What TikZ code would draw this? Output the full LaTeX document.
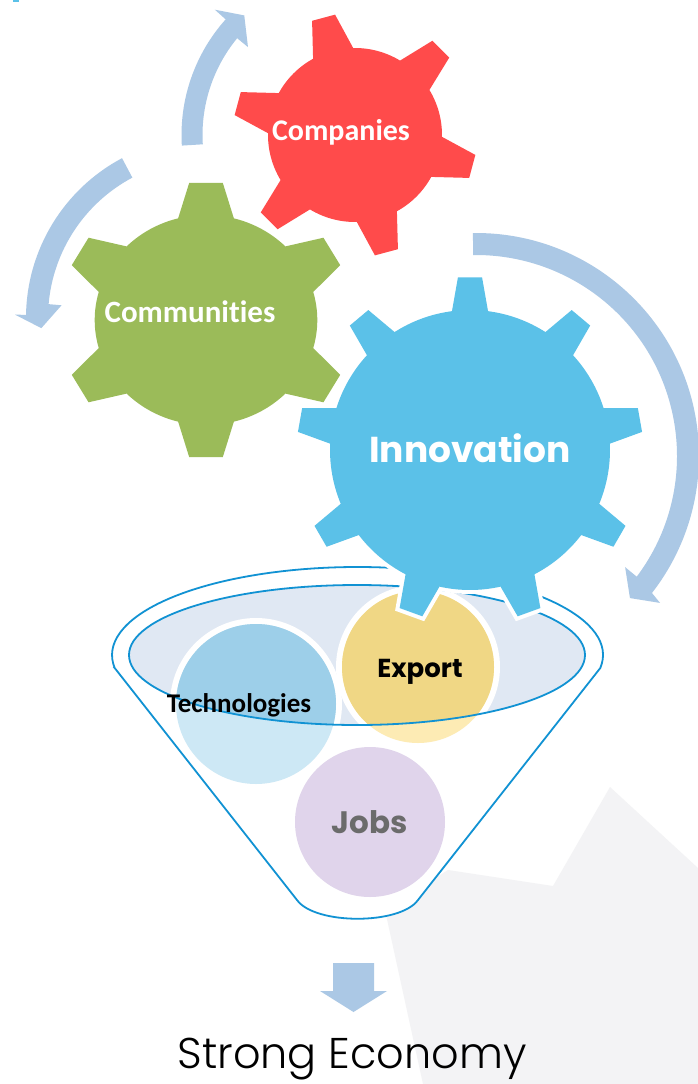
\documentclass[tikz,border=0pt]{standalone}
\usepackage{fontspec}
\newfontfamily\calfont{Carlito}[Ligatures=NoCommon]
\newfontfamily\popfont{Poppins}
\newfontfamily\poplight{Poppins Light}
\definecolor{gred}{HTML}{FF4B4B}
\definecolor{ggreen}{HTML}{9BBB59}
\definecolor{gblue}{HTML}{5BC1E8}
\definecolor{arr}{HTML}{ABC8E5}
\definecolor{fline}{HTML}{1192D3}
\definecolor{efill}{HTML}{E0E8F3}
\definecolor{techlt}{HTML}{CDE8F5}
\definecolor{techdk}{HTML}{9DCFE9}
\definecolor{explt}{HTML}{FDEBB4}
\definecolor{expdk}{HTML}{F0D785}
\definecolor{jobsc}{HTML}{E0D4EB}
\definecolor{bggrey}{HTML}{F3F3F5}
\definecolor{jobstxt}{HTML}{6B6B6B}
% #1 scope options (shift etc.), #2 teeth, #3 first tooth angle, #4 body radius, #5 tip radius,
% #6 half angle at base, #7 half angle at tip, #8 path options
\newcommand\mygear[8]{%
  \begin{scope}[#1]
  \path[#8] ({#3-#6}:#4)
    \foreach \k in {1,...,#2}{
      -- ({#3+(\k-1)*360/#2-#7}:#5) -- ({#3+(\k-1)*360/#2+#7}:#5)
      -- ({#3+(\k-1)*360/#2+#6}:#4)
      arc[start angle={#3+(\k-1)*360/#2+#6}, end angle={#3+\k*360/#2-#6}, radius=#4]
    } -- cycle;
  \end{scope}}
\begin{document}
\begin{tikzpicture}[x=1pt,y=-1pt,
  arrowshape/.style={fill=arr},
  funnelline/.style={draw=fline,line width=1.8},
  geartext/.style={anchor=base,text=white,font=\calfont\bfseries\fontsize{30}{30}\selectfont},
  circtext/.style={anchor=base,text=black}]
\useasboundingbox (0,0) rectangle (698,1084);
\fill[white] (0,0) rectangle (698,1084);
% background sheet
\fill[bggrey] (423,1084) -- (385,910) -- (448,870) -- (553,886) -- (610,787) -- (698,868) -- (698,1084) -- cycle;
\fill[gblue] (13,0) rectangle (19,1.5);
% funnel body
\path[fill=white] (114.7,668) -- (297,900) .. controls (315,925) and (400,925) .. (418,900) -- (600.3,668)
  arc[start angle=8.5, end angle=-188.5, x radius=245.5, y radius=88] -- cycle;
\fill[efill] (357,655) ellipse [x radius=228, y radius=70];
% circles
\fill[white] (256,704) circle[radius=86];
\fill[white] (418,667) circle[radius=82];
\fill[techlt] (256,704) circle[radius=80];
\fill[explt] (418,667) circle[radius=76];
\fill[jobsc] (370,822) circle[radius=75];
\begin{scope}
  \clip (357,655) ellipse [x radius=228, y radius=70];
  \fill[techdk] (256,704) circle[radius=80];
  \fill[expdk] (418,667) circle[radius=76];
\end{scope}
\draw[funnelline] (114.7,668) -- (297,900) .. controls (315,925) and (400,925) .. (418,900) -- (600.3,668)
  arc[start angle=8.5, end angle=-188.5, x radius=245.5, y radius=88] -- cycle;
\draw[funnelline] (357,655) ellipse [x radius=228, y radius=70];
% curved arrows
\begin{scope}[shift={(355,135)}]
\fill[arrowshape] (176.5:173.5) arc[start angle=176.5, end angle=221.8, radius=173.5]
  -- (221.8:188) -- (227.2:163) -- (219.4:138.5) -- (219.4:152.5)
  arc[start angle=219.4, end angle=176.5, radius=152.5] -- cycle;
\end{scope}
\begin{scope}[shift={(207,318)}]
\fill[arrowshape] (242:181) arc[start angle=242, end angle=181, radius=181]
  -- (181:192) -- (176.5:166) -- (185:146) -- (185:159)
  arc[start angle=185, end angle=242, radius=159] -- cycle;
\end{scope}
\begin{scope}[shift={(476,456)}]
\fill[arrowshape] (-90.8:223) arc[start angle=-90.8, end angle=37.9, radius=223]
  -- (38.6:235.5) -- (42.7:209.5) -- (36.7:186) -- (36.9:201)
  arc[start angle=36.9, end angle=-90.8, radius=201] -- cycle;
\end{scope}
% down arrow
\fill[arrowshape] (333,963) -- (374,963) -- (374,991) -- (387,991) -- (353.5,1012) -- (320,991) -- (333,991) -- cycle;
% gears
\mygear{shift={(206,320)},xscale=1.06}{6}{30}{105}{138}{14.5}{6.6}{fill=ggreen}
\mygear{shift={(355,135)}}{6}{15}{87}{122}{13.8}{5.6}{fill=gred}
\mygear{shift={(470,450)}}{9}{30}{140}{173}{7.4}{4}{fill=white,draw=white,line width=8}
\mygear{shift={(470,450)}}{9}{30}{140}{173}{7.4}{4}{fill=gblue}
% texts
\node[geartext] (companies) at (341,140) {Companies};
\node[geartext,font=\calfont\bfseries\fontsize{31}{31}\selectfont] (communities) at (190,322) {Communities};
\node[anchor=base,text=white,font=\popfont\bfseries\fontsize{36}{36}\selectfont] (innovation) at (470,462) {Innovation};
\node[circtext,font=\calfont\bfseries\fontsize{27}{27}\selectfont] (tech) at (239,712) {Technologies};
\node[circtext,font=\popfont\bfseries\fontsize{26}{26}\selectfont] (export) at (420,677) {Export};
\node[anchor=base,text=jobstxt,font=\popfont\bfseries\fontsize{31}{31}\selectfont] (jobs) at (370,833) {Jobs};
\node[anchor=base,inner sep=0pt,text=black,font=\poplight\fontsize{43}{43}\selectfont] (economy) at (352,1068) {Strong Economy};
\end{tikzpicture}
\end{document}
